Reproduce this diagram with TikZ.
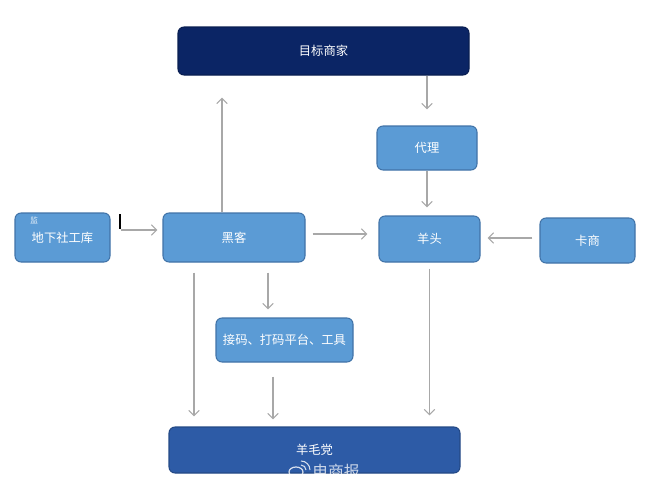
\documentclass[tikz,border=0pt]{standalone}
\usepackage{fontspec}
\setmainfont{Noto Sans CJK SC}
\usetikzlibrary{calc,arrows.meta}
\definecolor{bleu}{HTML}{5B9BD5}
\definecolor{bleubord}{HTML}{4173A8}
\definecolor{marine}{HTML}{0B2565}
\definecolor{bleufonce}{HTML}{2D5BA6}
\definecolor{gris}{HTML}{A8A8A8}

\begin{document}
\begin{tikzpicture}
  \tikzstyle{boite}=[rectangle,rounded corners=0.12cm,fill=bleu,draw=bleubord,line width=0.6pt,text=white,font=\fontsize{7}{8}\selectfont,inner sep=0pt]
  \tikzstyle{fl}=[draw=gris,line width=0.6pt,-{Straight Barb[length=3pt,width=6pt]}]
  \useasboundingbox (0,0) rectangle (12.9,9.8);
  % Boites
  \node[boite,fill=marine,draw=marine!80!black,minimum width=5.82cm,minimum height=0.96cm] (cible)  at (6.47,8.78) {目标商家};
  \node[boite,minimum width=2.0cm,minimum height=0.88cm]  (agent)  at (8.54,6.84) {代理};
  \node[boite,minimum width=1.9cm,minimum height=0.98cm]  (base)   at (1.25,5.05) {地下社工库};
  \node[boite,minimum width=2.84cm,minimum height=0.98cm] (hacker) at (4.68,5.05) {黑客};
  \node[boite,minimum width=2.02cm,minimum height=0.92cm] (tete)   at (8.59,5.02) {羊头};
  \node[boite,minimum width=1.9cm,minimum height=0.9cm]   (carte)  at (11.75,4.99) {卡商};
  \node[boite,minimum width=2.74cm,minimum height=0.88cm] (outils) at (5.69,3.0) {接码、打码平台、工具};
  \node[boite,fill=bleufonce,draw=bleufonce!80!black,minimum width=5.82cm,minimum height=0.92cm] (parti) at (6.29,0.8) {羊毛党};
  % Petits details
  \node[text=white!85!bleu,font=\fontsize{4.5}{5}\selectfont,inner sep=0pt] (marque) at (0.68,5.4) {监};
  \draw[line width=1pt] (2.4,5.52)--(2.4,5.22);
  % Fleches
  \draw[fl,shorten >=0.44cm] ([xshift=-0.24cm]hacker.north) -- ([xshift=-0.24cm]hacker.north |- cible.south);
  \draw[fl,shorten >=0.32cm] (cible.south -| agent.north) -- (agent.north);
  \draw[fl,shorten >=0.16cm] (agent.south) -- (agent.south |- tete.north);
  \draw[fl,shorten <=0.2cm,shorten >=0.1cm] ([yshift=0.15cm]base.east) -- ([yshift=0.15cm]base.east -| hacker.west);
  \draw[fl,shorten <=0.14cm,shorten >=0.22cm] ([yshift=0.07cm]hacker.east) -- ([yshift=0.07cm]hacker.east -| tete.west);
  \draw[fl,shorten <=0.14cm,shorten >=0.14cm] ([yshift=0.05cm]carte.west) -- ([yshift=0.05cm]carte.west -| tete.east);
  \draw[fl,shorten <=0.2cm,shorten >=0.16cm] ([xshift=0.68cm]hacker.south) -- ([xshift=0.68cm]hacker.south |- outils.north);
  \draw[fl,shorten <=0.2cm,shorten >=0.2cm] ([xshift=-0.8cm]hacker.south) -- ([xshift=-0.8cm]hacker.south |- parti.north);
  \draw[fl,shorten <=0.28cm,shorten >=0.14cm] ([xshift=-0.23cm]outils.south) -- ([xshift=-0.23cm]outils.south |- parti.north);
  \draw[fl,shorten <=0.12cm,shorten >=0.22cm] (tete.south) -- (tete.south |- parti.north);
  % Filigrane
  \node[text=white,opacity=0.75,font=\fontsize{9}{10}\selectfont,inner sep=0pt] (filigrane) at (6.72,0.37) {电商报};
  \draw[white,opacity=0.8,line width=0.7pt] (5.92,0.36) ellipse (0.14cm and 0.1cm);
  \draw[white,opacity=0.8,line width=0.6pt] (6.02,0.5) arc (90:0:0.1cm);
  \draw[white,opacity=0.8,line width=0.6pt] (6.02,0.58) arc (90:0:0.18cm);
\end{tikzpicture}
\end{document}
